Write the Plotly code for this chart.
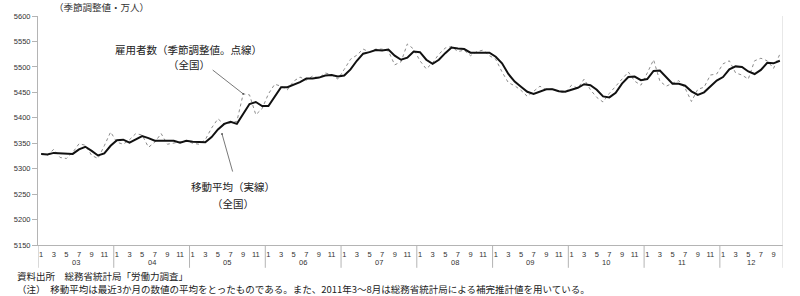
import plotly.graph_objects as go

# ---- data (monthly, Jan 2003 - Oct 2012) ----
year_labels = ["03", "04", "05", "06", "07", "08", "09", "10", "11", "12"]
months_per_year = [12, 12, 12, 12, 12, 12, 12, 12, 12, 10]

# 雇用者数（季節調整値）: dotted line
employees = [
    5330, 5327, 5338, 5322, 5320, 5332, 5349, 5346, 5326, 5320, 5345, 5372,
    5352, 5348, 5357, 5369, 5366, 5342, 5352, 5369, 5348, 5350, 5352, 5355,
    5350, 5348, 5357, 5380, 5398, 5387, 5390, 5393, 5447, 5445, 5406, 5418,
    5447, 5466, 5462, 5455, 5472, 5480, 5474, 5482, 5478, 5488, 5485, 5476,
    5495, 5515, 5523, 5535, 5529, 5535, 5535, 5531, 5504, 5510, 5545, 5535,
    5512, 5496, 5508, 5525, 5537, 5540, 5530, 5533, 5522, 5530, 5533, 5522,
    5515, 5490, 5469, 5463, 5454, 5442, 5452, 5462, 5455, 5457, 5451, 5449,
    5464, 5458, 5476, 5455, 5440, 5431, 5448, 5462, 5476, 5490, 5472, 5464,
    5488, 5514, 5472, 5462, 5468, 5473, 5458, 5432, 5456, 5460, 5484, 5486,
    5506, 5512, 5488, 5484, 5476, 5512, 5517, 5512, 5497, 5525,
]

# 移動平均: solid line
moving_avg = [
    5329, 5328, 5331, 5330, 5329, 5329, 5338, 5343, 5335, 5326, 5330, 5345,
    5356, 5357, 5351, 5358, 5364, 5360, 5355, 5355, 5355, 5355, 5351, 5355,
    5353, 5353, 5352, 5362, 5377, 5388, 5392, 5388, 5408, 5427, 5431, 5423,
    5423, 5442, 5460, 5460, 5465, 5470, 5477, 5477, 5479, 5483, 5484, 5481,
    5483, 5495, 5512, 5526, 5529, 5533, 5532, 5534, 5522, 5514, 5518, 5530,
    5529, 5514, 5506, 5514, 5527, 5538, 5536, 5535, 5528, 5528, 5528, 5528,
    5520, 5507, 5486, 5471, 5461, 5451, 5447, 5451, 5456, 5456, 5452, 5451,
    5455, 5459, 5466, 5464, 5455, 5442, 5440, 5449, 5467, 5480, 5481, 5474,
    5476, 5492, 5493, 5479, 5467, 5467, 5463, 5452, 5445, 5450, 5462, 5473,
    5480, 5495, 5501, 5500, 5491, 5486, 5494, 5508, 5507, 5512,
]

y_ticks = [5150, 5200, 5250, 5300, 5350, 5400, 5450, 5500, 5550, 5600]
tick_months = [1, 3, 5, 7, 9, 11]

# ---- build x positions ----
idx, month_of = [], []
for y, n in enumerate(months_per_year):
    for m in range(n):
        idx.append(len(idx))
        month_of.append(m + 1)
N = len(idx)

tickvals = [i for i in idx if month_of[i] in tick_months]
ticktext = [str(month_of[i]) for i in tickvals]

W, H = 800, 296
ML, MR, MT, MB = 38, 17, 14, 51
PH = H - MT - MB
PW = W - ML - MR

AX = "#b4b4b4"
TXT = "#333333"
JP = "Noto Sans CJK JP"
NUM = "Liberation Sans, Arial, sans-serif"


def px_x(px):
    return (px - ML) / PW


def px_y(py):
    return 1 - (py - MT) / PH


fig = go.Figure()
fig.add_trace(go.Scatter(x=idx, y=employees, mode="lines",
                         line=dict(color="#8c8c8c", width=1, dash="dot"),
                         hoverinfo="skip", showlegend=False))
fig.add_trace(go.Scatter(x=idx, y=moving_avg, mode="lines",
                         line=dict(color="#111111", width=2),
                         hoverinfo="skip", showlegend=False))

shapes = []
sep_bottom = -23 / PH
start = 0
for n in months_per_year:
    shapes.append(dict(type="line", xref="x", yref="paper",
                       x0=start - 0.5, x1=start - 0.5, y0=0, y1=sep_bottom,
                       line=dict(color=AX, width=1)))
    start += n
shapes.append(dict(type="line", xref="x", yref="paper",
                   x0=N - 0.5, x1=N - 0.5, y0=1, y1=sep_bottom,
                   line=dict(color="#d0d0d0", width=1)))

annotations = []
start = 0
for lab, n in zip(year_labels, months_per_year):
    annotations.append(dict(x=start + (n - 1) / 2, y=px_y(263), xref="x", yref="paper",
                            text=lab, showarrow=False, yanchor="middle",
                            font=dict(size=7.5, color=TXT, family=NUM)))
    start += n

# unit label
annotations.append(dict(x=px_x(101), y=px_y(5), xref="paper", yref="paper",
                        text="（季節調整値・万人）", showarrow=False,
                        xanchor="center", yanchor="middle",
                        font=dict(size=9.5, color=TXT, family=JP)))

# series labels (one annotation per line)
label_lines = [
    ("雇用者数（季節調整値。点線）", 188, 48),
    ("（全国）", 189, 63),
    ("移動平均（実線）", 233, 186),
    ("（全国）", 233, 203),
]
for txt, cx, cy in label_lines:
    annotations.append(dict(x=px_x(cx), y=px_y(cy), xref="paper", yref="paper",
                            text=txt, showarrow=False,
                            xanchor="center", yanchor="middle",
                            font=dict(size=10.5, color="#222", family=JP)))

# pointer lines
annotations.append(dict(x=32, y=employees[32], xref="x", yref="y", text="",
                        showarrow=True, arrowhead=6, arrowsize=0.6, arrowwidth=0.8,
                        arrowcolor="#555", ax=-32, ay=-25))
annotations.append(dict(x=28.65, y=5368, xref="x", yref="y", text="",
                        showarrow=True, arrowhead=6, arrowsize=0.6, arrowwidth=0.8,
                        arrowcolor="#555", ax=11, ay=39))

# footnotes
annotations.append(dict(x=px_x(15), y=px_y(276), xref="paper", yref="paper",
                        text="資料出所　総務省統計局「労働力調査」", showarrow=False,
                        xanchor="left", yanchor="middle",
                        font=dict(size=9.5, color="#222", family=JP)))
annotations.append(dict(x=px_x(15), y=px_y(289), xref="paper", yref="paper",
                        text="（注）　移動平均は最近3か月の数値の平均をとったものである。また、2011年3～8月は総務省統計局による補完推計値を用いている。",
                        showarrow=False, xanchor="left", yanchor="middle",
                        font=dict(size=9.5, color="#222", family=JP)))

fig.update_layout(
    width=W, height=H,
    margin=dict(l=ML, r=MR, t=MT, b=MB, pad=0),
    paper_bgcolor="white", plot_bgcolor="white",
    shapes=shapes, annotations=annotations,
    font=dict(family=NUM, color=TXT),
    xaxis=dict(range=[-0.5, N - 0.5], tickmode="array", tickvals=tickvals,
               ticktext=ticktext, ticks="", showgrid=False, zeroline=False,
               showline=True, linecolor=AX, linewidth=1,
               tickfont=dict(size=7.5, color=TXT, family=NUM), ticklabelstandoff=2),
    yaxis=dict(range=[5150, 5600], tickmode="array", tickvals=y_ticks,
               ticks="outside", ticklen=5, tickcolor=AX, showgrid=False,
               zeroline=False, showline=True, linecolor=AX, linewidth=1,
               tickfont=dict(size=7.5, color=TXT, family=NUM)),
)

fig.write_html("out.html")
